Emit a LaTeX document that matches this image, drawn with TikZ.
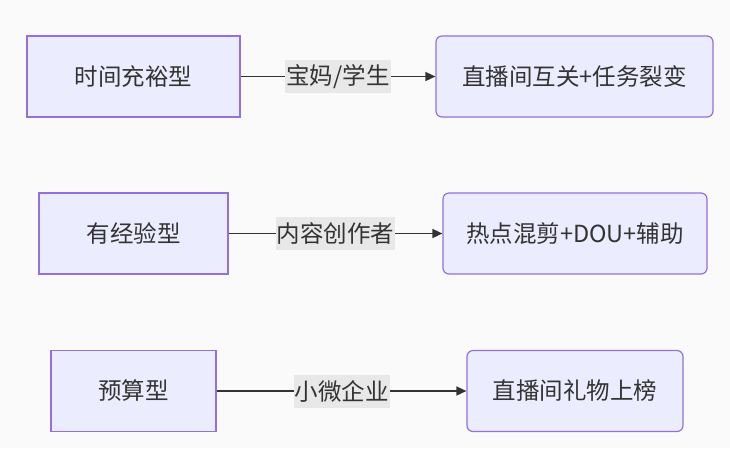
\documentclass[tikz,border=0pt]{standalone}
\usepackage{fontspec}
\setmainfont{Noto Sans CJK SC}
\usetikzlibrary{arrows.meta}
\definecolor{boxfill}{HTML}{ECECFF}
\definecolor{boxline}{HTML}{9370DB}
\definecolor{edgecol}{HTML}{333333}
\definecolor{lblbg}{HTML}{E8E8E8}
\definecolor{bgcol}{HTML}{FAFAFA}
\definecolor{txt}{HTML}{333333}
\begin{document}
\begin{tikzpicture}[x=1pt,y=-1pt,
  every node/.style={font=\fontsize{23.5}{28}\selectfont, text=txt},
  sqbox/.style={draw=boxline, fill=boxfill, line width=1.2pt, minimum height=81pt, inner sep=0pt},
  rdbox/.style={sqbox, rounded corners=6pt},
  lbl/.style={fill=lblbg, inner sep=1pt, minimum height=33pt},
  flow/.style={draw=edgecol, line width=1.6pt, -{Triangle[length=10pt,width=9pt]}}
]
\fill[bgcol] (0,0) rectangle (730,448);
\useasboundingbox (0,0) rectangle (730,448);

\node[sqbox, minimum width=213pt] (a1) at (133.5,76.5) {时间充裕型};
\node[rdbox, minimum width=277pt] (b1) at (574.5,76.5) {直播间互关+任务裂变};
\node[sqbox, minimum width=189pt] (a2) at (133.5,233.5) {有经验型};
\node[rdbox, minimum width=264pt] (b2) at (575,233.5) {热点混剪+DOU+辅助};
\node[sqbox, minimum width=165pt] (a3) at (133.5,391) {预算型};
\node[rdbox, minimum width=216pt] (b3) at (575,391) {直播间礼物上榜};

\draw[flow] (a1) -- node[lbl] (l1) {宝妈/学生} (b1);
\draw[flow] (a2) -- node[lbl] (l2) {内容创作者} (b2);
\draw[flow] (a3) -- node[lbl] (l3) {小微企业} (b3);
\end{tikzpicture}
\end{document}
